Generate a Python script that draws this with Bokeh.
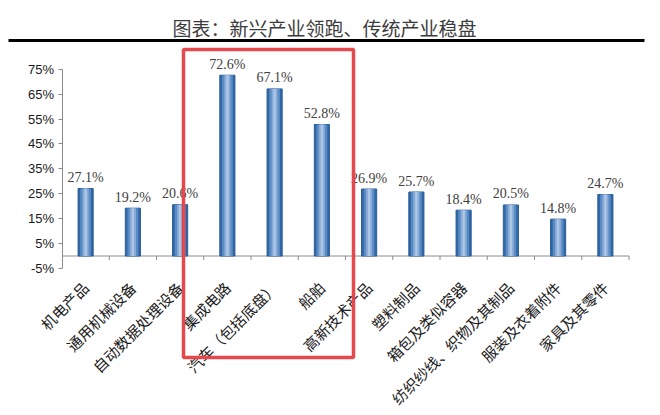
from bokeh.plotting import figure
from bokeh.models import Range1d, FixedTicker, BoxAnnotation, Label, ColumnDataSource
from bokeh.core.properties import value
from bokeh.embed import file_html
from bokeh.resources import INLINE
import math

title_text = "图表：新兴产业领跑、传统产业稳盘"
categories = ["机电产品", "通用机械设备", "自动数据处理设备", "集成电路", "汽车（包括底盘）", "船舶",
              "高新技术产品", "塑料制品", "箱包及类似容器", "纺织纱线、织物及其制品", "服装及衣着附件", "家具及其零件"]
values = [27.1, 19.2, 20.6, 72.6, 67.1, 52.8, 26.9, 25.7, 18.4, 20.5, 14.8, 24.7]
y_ticks = [-5, 5, 15, 25, 35, 45, 55, 65, 75]

n = len(categories)
xs = [i + 0.5 for i in range(n)]
labels = [f"{v:.1f}%" for v in values]
src = ColumnDataSource(dict(x=xs, top=values, label=labels))

W, H = 660, 415
x0_px, cat_px = 61.5, 47.25      # screen position of the value axis and width of one category
zero_px, unit_px = 255.5, 2.49   # screen position of 0% and pixels per percentage point

p = figure(width=W, height=H, output_backend="svg", toolbar_location=None,
           x_range=Range1d(-x0_px / cat_px, (W - x0_px) / cat_px),
           y_range=Range1d((zero_px - H) / unit_px, zero_px / unit_px),
           min_border=0)
p.outline_line_color = None
p.xgrid.grid_line_color = None
p.ygrid.grid_line_color = None
p.background_fill_color = "white"
p.border_fill_color = "white"

# y axis
p.yaxis.fixed_location = 0
p.yaxis.ticker = FixedTicker(ticks=y_ticks)
p.yaxis.major_label_overrides = {t: f"{t}%" for t in y_ticks}
p.yaxis.bounds = (-5, 75)
p.yaxis.axis_line_color = "#8c8c8c"
p.yaxis.major_tick_line_color = "#8c8c8c"
p.yaxis.major_tick_in = 0
p.yaxis.major_tick_out = 4
p.yaxis.minor_tick_line_color = None
p.yaxis.major_label_text_font = "Liberation Sans"
p.yaxis.major_label_text_font_size = "13px"
p.yaxis.major_label_text_color = "#1a1a1a"
p.yaxis.major_label_standoff = 4

# x axis (category labels)
p.xaxis.fixed_location = -5
p.xaxis.ticker = FixedTicker(ticks=xs)
p.xaxis.major_label_overrides = {x: c for x, c in zip(xs, categories)}
p.xaxis.major_label_orientation = math.pi / 4
p.xaxis.axis_line_color = None
p.xaxis.major_tick_line_color = None
p.xaxis.minor_tick_line_color = None
p.xaxis.major_label_text_font = "Noto Sans CJK SC"
p.xaxis.major_label_text_font_size = "15px"
p.xaxis.major_label_text_color = "#1a1a1a"
p.xaxis.major_label_standoff = 10

# zero line and category boundary ticks
p.segment(x0=[0], y0=[0], x1=[n], y1=[0], line_color="#8c8c8c", line_width=1)
bounds = list(range(1, n + 1))
p.segment(x0=bounds, y0=[0] * len(bounds), x1=bounds, y1=[-1.6] * len(bounds),
          line_color="#8c8c8c", line_width=1)

# bars with cylinder-like shading
p.vbar(x="x", top="top", bottom=0, width=0.32, source=src, fill_color="#2f66a6", line_color="#2a5c98", line_width=1)
p.vbar(x="x", top="top", bottom=0, width=0.23, source=src, fill_color="#5a8ac4", line_color=None)
p.vbar(x="x", top="top", bottom=0, width=0.13, source=src, fill_color="#88abd7", line_color=None)
p.vbar(x="x", top="top", bottom=0, width=0.05, source=src, fill_color="#adc6e6", line_color=None)

# value labels
p.text(x="x", y="top", text="label", source=src, text_align="center", text_baseline="alphabetic",
       y_offset=-11, text_font=value("Liberation Serif"), text_font_size="14px", text_color="#404040")

# title, rule under the title, highlight box
p.add_layout(Label(x=(324 - x0_px) / cat_px, y=(zero_px - 27) / unit_px, text=title_text,
                   text_align="center", text_baseline="middle",
                   text_font="Noto Sans CJK SC", text_font_size="19px", text_color="#3c3c3c"))
p.add_layout(BoxAnnotation(left=(8 - x0_px) / cat_px, right=(644 - x0_px) / cat_px,
                           top=(zero_px - 38.5) / unit_px, bottom=(zero_px - 41.5) / unit_px,
                           fill_color="black", fill_alpha=1, line_color=None))
p.add_layout(BoxAnnotation(left=(183 - x0_px) / cat_px, right=(353 - x0_px) / cat_px,
                           top=(zero_px - 49) / unit_px, bottom=(zero_px - 357) / unit_px,
                           fill_alpha=0, line_color="#e5484d", line_width=3.5, line_alpha=1))

open("out.html", "w").write(file_html(p, INLINE))
